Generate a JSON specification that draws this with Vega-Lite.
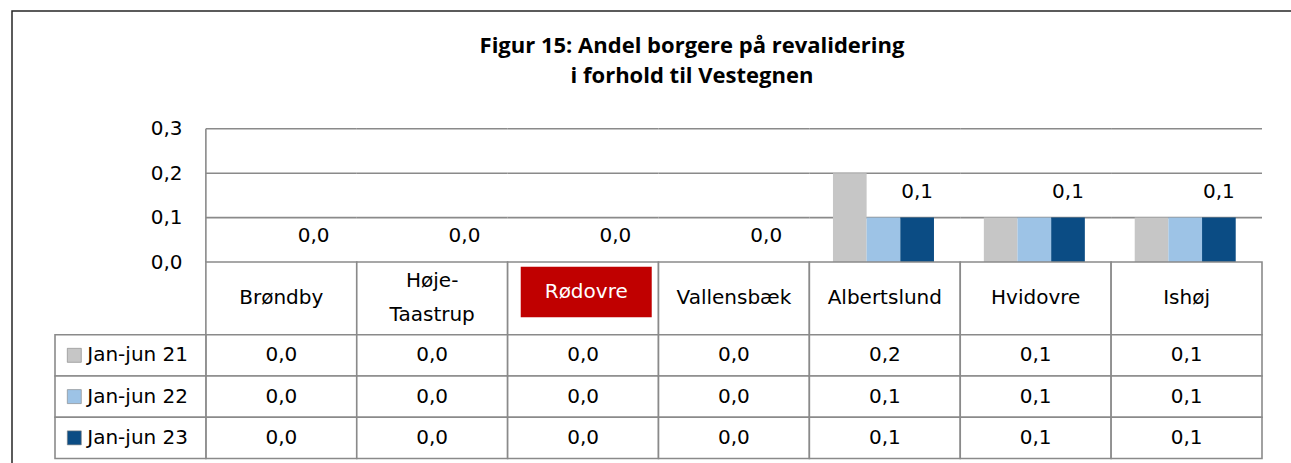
{
  "$schema": "https://vega.github.io/schema/vega-lite/v6.json",
  "width": 1282,
  "height": 455,
  "autosize": {"type": "none"},
  "padding": {"left": 12, "top": 11, "right": -3, "bottom": -3},
  "background": "white",
  "title": {
    "text": ["Figur 15: Andel borgere på revalidering", "i forhold til Vestegnen"],
    "font": "Open Sans",
    "fontSize": 22,
    "fontWeight": "bold",
    "color": "#000000",
    "anchor": "middle",
    "frame": "group",
    "dx": 39,
    "offset": -94.5,
    "baseline": "alphabetic",
    "lineHeight": 30.6
  },
  "datasets": {
    "andele": [
      {"kommune": "Brøndby", "periode": "Jan-jun 21", "andel": 0.0},
      {"kommune": "Brøndby", "periode": "Jan-jun 22", "andel": 0.0},
      {"kommune": "Brøndby", "periode": "Jan-jun 23", "andel": 0.0},
      {"kommune": "Høje-Taastrup", "periode": "Jan-jun 21", "andel": 0.0},
      {"kommune": "Høje-Taastrup", "periode": "Jan-jun 22", "andel": 0.0},
      {"kommune": "Høje-Taastrup", "periode": "Jan-jun 23", "andel": 0.0},
      {"kommune": "Rødovre", "periode": "Jan-jun 21", "andel": 0.0},
      {"kommune": "Rødovre", "periode": "Jan-jun 22", "andel": 0.0},
      {"kommune": "Rødovre", "periode": "Jan-jun 23", "andel": 0.0},
      {"kommune": "Vallensbæk", "periode": "Jan-jun 21", "andel": 0.0},
      {"kommune": "Vallensbæk", "periode": "Jan-jun 22", "andel": 0.0},
      {"kommune": "Vallensbæk", "periode": "Jan-jun 23", "andel": 0.0},
      {"kommune": "Albertslund", "periode": "Jan-jun 21", "andel": 0.2},
      {"kommune": "Albertslund", "periode": "Jan-jun 22", "andel": 0.1},
      {"kommune": "Albertslund", "periode": "Jan-jun 23", "andel": 0.1},
      {"kommune": "Hvidovre", "periode": "Jan-jun 21", "andel": 0.1},
      {"kommune": "Hvidovre", "periode": "Jan-jun 22", "andel": 0.1},
      {"kommune": "Hvidovre", "periode": "Jan-jun 23", "andel": 0.1},
      {"kommune": "Ishøj", "periode": "Jan-jun 21", "andel": 0.1},
      {"kommune": "Ishøj", "periode": "Jan-jun 22", "andel": 0.1},
      {"kommune": "Ishøj", "periode": "Jan-jun 23", "andel": 0.1}
    ],
    "kommuner": [
      {"kommune": "Brøndby", "navn": "Brøndby"},
      {"kommune": "Høje-Taastrup", "navn": ["Høje-", "Taastrup"]},
      {"kommune": "Rødovre", "navn": "Rødovre"},
      {"kommune": "Vallensbæk", "navn": "Vallensbæk"},
      {"kommune": "Albertslund", "navn": "Albertslund"},
      {"kommune": "Hvidovre", "navn": "Hvidovre"},
      {"kommune": "Ishøj", "navn": "Ishøj"}
    ]
  },
  "config": {
    "view": {"stroke": "#262626", "strokeWidth": 1.5},
    "locale": {"number": {"decimal": ",", "thousands": ".", "grouping": [3], "currency": ["", " kr."]}},
    "text": {"font": "DejaVu Sans", "fontSize": 20, "color": "#000000"},
    "axis": {"labelFont": "DejaVu Sans", "labelFontSize": 20, "labelColor": "#000000"}
  },
  "resolve": {"scale": {"y": "independent"}, "axis": {"y": "independent"}},
  "layer": [
    {
      "data": {"name": "andele"},
      "layer": [
        {
          "data": {"name": "kommuner"},
          "mark": {"type": "rect", "fill": "transparent", "stroke": "#8a8a8a", "strokeWidth": 1.6},
          "encoding": {
            "x": {"field": "kommune", "type": "nominal", "axis": null, "scale": {"domain": ["Serie", "Brøndby", "Høje-Taastrup", "Rødovre", "Vallensbæk", "Albertslund", "Hvidovre", "Ishøj"], "paddingInner": 0, "paddingOuter": 0.24855, "align": 0.57333, "round": false}},
            "y": {"datum": 0.1, "type": "quantitative", "scale": {"domain": [-0.45945, 0.56532], "nice": false, "zero": false}, "axis": {"values": [0, 0.1, 0.2, 0.3], "format": ".1f", "offset": -194, "ticks": false, "domain": false, "grid": false, "labelPadding": 24, "title": null}},
            "y2": {"datum": 0.1}
          }
        },
        {
          "data": {"name": "kommuner"},
          "mark": {"type": "rect", "fill": "transparent", "stroke": "#8a8a8a", "strokeWidth": 1.6},
          "encoding": {
            "x": {"field": "kommune", "type": "nominal", "axis": null, "scale": {"domain": ["Serie", "Brøndby", "Høje-Taastrup", "Rødovre", "Vallensbæk", "Albertslund", "Hvidovre", "Ishøj"], "paddingInner": 0, "paddingOuter": 0.24855, "align": 0.57333, "round": false}},
            "y": {"datum": 0.2, "type": "quantitative", "scale": {"domain": [-0.45945, 0.56532], "nice": false, "zero": false}, "axis": {"values": [0, 0.1, 0.2, 0.3], "format": ".1f", "offset": -194, "ticks": false, "domain": false, "grid": false, "labelPadding": 24, "title": null}},
            "y2": {"datum": 0.2}
          }
        },
        {
          "data": {"name": "kommuner"},
          "mark": {"type": "rect", "fill": "transparent", "stroke": "#8a8a8a", "strokeWidth": 1.6},
          "encoding": {
            "x": {"field": "kommune", "type": "nominal", "axis": null, "scale": {"domain": ["Serie", "Brøndby", "Høje-Taastrup", "Rødovre", "Vallensbæk", "Albertslund", "Hvidovre", "Ishøj"], "paddingInner": 0, "paddingOuter": 0.24855, "align": 0.57333, "round": false}},
            "y": {"datum": 0.3, "type": "quantitative", "scale": {"domain": [-0.45945, 0.56532], "nice": false, "zero": false}, "axis": {"values": [0, 0.1, 0.2, 0.3], "format": ".1f", "offset": -194, "ticks": false, "domain": false, "grid": false, "labelPadding": 24, "title": null}},
            "y2": {"datum": 0.3}
          }
        },
        {
          "data": {"values": [{"akse": "y"}]},
          "mark": {"type": "rule", "stroke": "#8a8a8a", "strokeWidth": 1.6},
          "encoding": {
            "x": {"datum": "Brøndby", "type": "nominal", "bandPosition": 0, "axis": null, "scale": {"domain": ["Serie", "Brøndby", "Høje-Taastrup", "Rødovre", "Vallensbæk", "Albertslund", "Hvidovre", "Ishøj"], "paddingInner": 0, "paddingOuter": 0.24855, "align": 0.57333, "round": false}},
            "y": {"datum": 0, "type": "quantitative", "scale": {"domain": [-0.45945, 0.56532], "nice": false, "zero": false}, "axis": {"values": [0, 0.1, 0.2, 0.3], "format": ".1f", "offset": -194, "ticks": false, "domain": false, "grid": false, "labelPadding": 24, "title": null}},
            "y2": {"datum": 0.3}
          }
        },
        {
          "mark": {"type": "bar"},
          "encoding": {
            "x": {"field": "kommune", "type": "nominal", "axis": null, "scale": {"domain": ["Serie", "Brøndby", "Høje-Taastrup", "Rødovre", "Vallensbæk", "Albertslund", "Hvidovre", "Ishøj"], "paddingInner": 0, "paddingOuter": 0.24855, "align": 0.57333, "round": false}},
            "xOffset": {"field": "periode", "type": "nominal", "scale": {"domain": ["Jan-jun 21", "Jan-jun 22", "Jan-jun 23"], "paddingInner": 0, "paddingOuter": 0.7405, "align": 0.473}},
            "y": {"field": "andel", "type": "quantitative", "scale": {"domain": [-0.45945, 0.56532], "nice": false, "zero": false}, "axis": {"values": [0, 0.1, 0.2, 0.3], "format": ".1f", "offset": -194, "ticks": false, "domain": false, "grid": false, "labelPadding": 24, "title": null}},
            "color": {"field": "periode", "type": "nominal", "scale": {"domain": ["Jan-jun 21", "Jan-jun 22", "Jan-jun 23"], "range": ["#c6c6c6", "#9dc3e6", "#0b4c84"]}, "legend": null}
          }
        },
        {
          "transform": [{"filter": "datum.periode === 'Jan-jun 23'"}],
          "mark": {"type": "text", "baseline": "middle", "align": "center", "dy": -26},
          "encoding": {
            "x": {"field": "kommune", "type": "nominal", "axis": null, "scale": {"domain": ["Serie", "Brøndby", "Høje-Taastrup", "Rødovre", "Vallensbæk", "Albertslund", "Hvidovre", "Ishøj"], "paddingInner": 0, "paddingOuter": 0.24855, "align": 0.57333, "round": false}},
            "xOffset": {"field": "periode", "type": "nominal", "scale": {"domain": ["Jan-jun 21", "Jan-jun 22", "Jan-jun 23"], "paddingInner": 0, "paddingOuter": 0.7405, "align": 0.473}},
            "y": {"field": "andel", "type": "quantitative", "scale": {"domain": [-0.45945, 0.56532], "nice": false, "zero": false}, "axis": {"values": [0, 0.1, 0.2, 0.3], "format": ".1f", "offset": -194, "ticks": false, "domain": false, "grid": false, "labelPadding": 24, "title": null}},
            "text": {"field": "andel", "type": "quantitative", "format": ".1f"}
          }
        }
      ]
    },
    {
      "data": {"name": "kommuner"},
      "layer": [
        {
          "mark": {"type": "rect", "fill": "white", "stroke": "#8a8a8a", "strokeWidth": 1.6},
          "encoding": {
            "x": {"field": "kommune", "type": "nominal", "axis": null, "scale": {"domain": ["Serie", "Brøndby", "Høje-Taastrup", "Rødovre", "Vallensbæk", "Albertslund", "Hvidovre", "Ishøj"], "paddingInner": 0, "paddingOuter": 0.24855, "align": 0.57333, "round": false}},
            "y": {"datum": "hdr", "type": "nominal", "axis": null, "scale": {"domain": ["hdr"], "range": [251, 323.7], "paddingInner": 0, "paddingOuter": 0, "round": false}}
          }
        },
        {
          "transform": [{"filter": "datum.kommune === 'Rødovre'"}],
          "mark": {"type": "point", "shape": "M-1,-0.3863H1V0.3863H-1Z", "size": 17161, "filled": true, "fill": "#c00000", "opacity": 1, "strokeWidth": 0},
          "encoding": {
            "x": {"field": "kommune", "type": "nominal", "bandPosition": 0.521, "axis": null, "scale": {"domain": ["Serie", "Brøndby", "Høje-Taastrup", "Rødovre", "Vallensbæk", "Albertslund", "Hvidovre", "Ishøj"], "paddingInner": 0, "paddingOuter": 0.24855, "align": 0.57333, "round": false}},
            "y": {"datum": "hdr", "type": "nominal", "bandPosition": 0.4127, "axis": null, "scale": {"domain": ["hdr"], "range": [251, 323.7], "paddingInner": 0, "paddingOuter": 0, "round": false}}
          }
        },
        {
          "transform": [{"filter": "datum.kommune !== 'Rødovre' && datum.kommune !== 'Høje-Taastrup'"}],
          "mark": {"type": "text", "baseline": "middle", "align": "center"},
          "encoding": {
            "x": {"field": "kommune", "type": "nominal", "axis": null, "scale": {"domain": ["Serie", "Brøndby", "Høje-Taastrup", "Rødovre", "Vallensbæk", "Albertslund", "Hvidovre", "Ishøj"], "paddingInner": 0, "paddingOuter": 0.24855, "align": 0.57333, "round": false}},
            "y": {"datum": "hdr", "type": "nominal", "axis": null, "scale": {"domain": ["hdr"], "range": [251, 323.7], "paddingInner": 0, "paddingOuter": 0, "round": false}},
            "text": {"field": "navn"}
          }
        },
        {
          "transform": [{"filter": "datum.kommune === 'Høje-Taastrup'"}],
          "mark": {"type": "text", "baseline": "middle", "align": "center", "lineHeight": 34, "dy": -17},
          "encoding": {
            "x": {"field": "kommune", "type": "nominal", "axis": null, "scale": {"domain": ["Serie", "Brøndby", "Høje-Taastrup", "Rødovre", "Vallensbæk", "Albertslund", "Hvidovre", "Ishøj"], "paddingInner": 0, "paddingOuter": 0.24855, "align": 0.57333, "round": false}},
            "y": {"datum": "hdr", "type": "nominal", "axis": null, "scale": {"domain": ["hdr"], "range": [251, 323.7], "paddingInner": 0, "paddingOuter": 0, "round": false}},
            "text": {"field": "navn"}
          }
        },
        {
          "transform": [{"filter": "datum.kommune === 'Rødovre'"}],
          "mark": {"type": "text", "baseline": "middle", "align": "center", "color": "#ffffff"},
          "encoding": {
            "x": {"field": "kommune", "type": "nominal", "bandPosition": 0.521, "axis": null, "scale": {"domain": ["Serie", "Brøndby", "Høje-Taastrup", "Rødovre", "Vallensbæk", "Albertslund", "Hvidovre", "Ishøj"], "paddingInner": 0, "paddingOuter": 0.24855, "align": 0.57333, "round": false}},
            "y": {"datum": "hdr", "type": "nominal", "bandPosition": 0.4127, "axis": null, "scale": {"domain": ["hdr"], "range": [251, 323.7], "paddingInner": 0, "paddingOuter": 0, "round": false}},
            "text": {"field": "navn"}
          }
        }
      ]
    },
    {
      "data": {"name": "andele"},
      "layer": [
        {
          "mark": {"type": "rect", "fill": "white", "stroke": "#8a8a8a", "strokeWidth": 1.6},
          "encoding": {
            "x": {"field": "kommune", "type": "nominal", "axis": null, "scale": {"domain": ["Serie", "Brøndby", "Høje-Taastrup", "Rødovre", "Vallensbæk", "Albertslund", "Hvidovre", "Ishøj"], "paddingInner": 0, "paddingOuter": 0.24855, "align": 0.57333, "round": false}},
            "y": {"field": "periode", "type": "nominal", "axis": null, "scale": {"domain": ["Jan-jun 21", "Jan-jun 22", "Jan-jun 23"], "range": [323.7, 447.5], "paddingInner": 0, "paddingOuter": 0, "round": false}}
          }
        },
        {
          "mark": {"type": "text", "baseline": "middle", "align": "center"},
          "encoding": {
            "x": {"field": "kommune", "type": "nominal", "axis": null, "scale": {"domain": ["Serie", "Brøndby", "Høje-Taastrup", "Rødovre", "Vallensbæk", "Albertslund", "Hvidovre", "Ishøj"], "paddingInner": 0, "paddingOuter": 0.24855, "align": 0.57333, "round": false}},
            "y": {"field": "periode", "type": "nominal", "axis": null, "scale": {"domain": ["Jan-jun 21", "Jan-jun 22", "Jan-jun 23"], "range": [323.7, 447.5], "paddingInner": 0, "paddingOuter": 0, "round": false}},
            "text": {"field": "andel", "type": "quantitative", "format": ".1f"}
          }
        },
        {
          "transform": [{"aggregate": [], "groupby": ["periode"]}],
          "mark": {"type": "rect", "fill": "white", "stroke": "#8a8a8a", "strokeWidth": 1.6},
          "encoding": {
            "x": {"datum": "Serie", "type": "nominal", "axis": null, "scale": {"domain": ["Serie", "Brøndby", "Høje-Taastrup", "Rødovre", "Vallensbæk", "Albertslund", "Hvidovre", "Ishøj"], "paddingInner": 0, "paddingOuter": 0.24855, "align": 0.57333, "round": false}},
            "y": {"field": "periode", "type": "nominal", "axis": null, "scale": {"domain": ["Jan-jun 21", "Jan-jun 22", "Jan-jun 23"], "range": [323.7, 447.5], "paddingInner": 0, "paddingOuter": 0, "round": false}}
          }
        },
        {
          "transform": [{"aggregate": [], "groupby": ["periode"]}],
          "mark": {"type": "point", "shape": "square", "size": 196, "filled": true, "opacity": 1, "stroke": "#7f7f7f", "strokeWidth": 0.6},
          "encoding": {
            "x": {"datum": "Serie", "type": "nominal", "bandPosition": 0.128, "axis": null, "scale": {"domain": ["Serie", "Brøndby", "Høje-Taastrup", "Rødovre", "Vallensbæk", "Albertslund", "Hvidovre", "Ishøj"], "paddingInner": 0, "paddingOuter": 0.24855, "align": 0.57333, "round": false}},
            "y": {"field": "periode", "type": "nominal", "axis": null, "scale": {"domain": ["Jan-jun 21", "Jan-jun 22", "Jan-jun 23"], "range": [323.7, 447.5], "paddingInner": 0, "paddingOuter": 0, "round": false}},
            "color": {"field": "periode", "type": "nominal", "scale": {"domain": ["Jan-jun 21", "Jan-jun 22", "Jan-jun 23"], "range": ["#c6c6c6", "#9dc3e6", "#0b4c84"]}, "legend": null}
          }
        },
        {
          "transform": [{"aggregate": [], "groupby": ["periode"]}],
          "mark": {"type": "text", "baseline": "middle", "align": "left"},
          "encoding": {
            "x": {"datum": "Serie", "type": "nominal", "bandPosition": 0.214, "axis": null, "scale": {"domain": ["Serie", "Brøndby", "Høje-Taastrup", "Rødovre", "Vallensbæk", "Albertslund", "Hvidovre", "Ishøj"], "paddingInner": 0, "paddingOuter": 0.24855, "align": 0.57333, "round": false}},
            "y": {"field": "periode", "type": "nominal", "axis": null, "scale": {"domain": ["Jan-jun 21", "Jan-jun 22", "Jan-jun 23"], "range": [323.7, 447.5], "paddingInner": 0, "paddingOuter": 0, "round": false}},
            "text": {"field": "periode"}
          }
        }
      ]
    }
  ]
}
